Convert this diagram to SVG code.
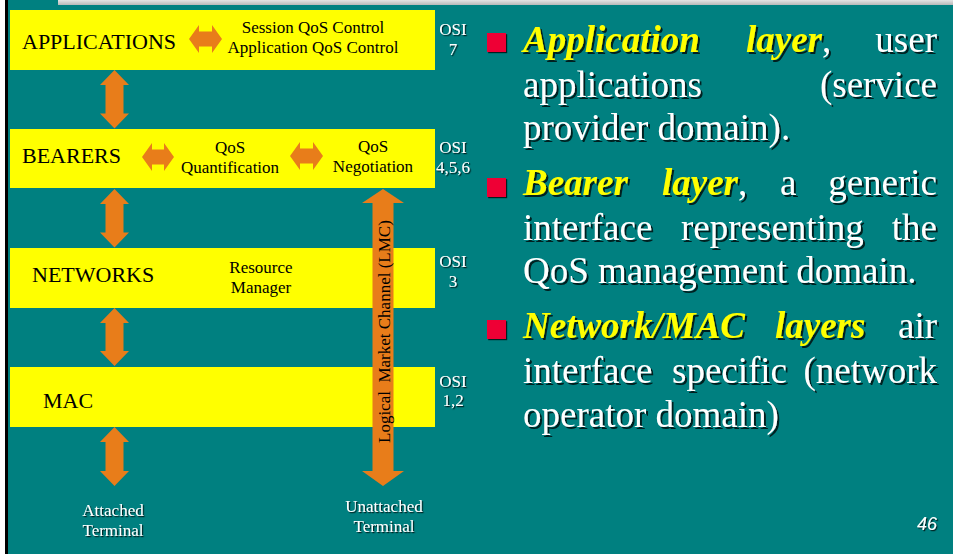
<svg xmlns="http://www.w3.org/2000/svg" width="953" height="554" viewBox="0 0 953 554">
  <defs>
    <linearGradient id="topbar" x1="0" y1="0" x2="0" y2="1">
      <stop offset="0" stop-color="#e4e4e4"/>
      <stop offset="1" stop-color="#b8b8b8"/>
    </linearGradient>
    <filter id="shadowSmall" x="-10%" y="-10%" width="130%" height="140%">
      <feDropShadow dx="1.2" dy="1.2" stdDeviation="0.2" flood-color="#000" flood-opacity="0.75"/>
    </filter>
    <filter id="shadowLarge" x="-10%" y="-10%" width="130%" height="140%">
      <feDropShadow dx="2" dy="2" stdDeviation="0.3" flood-color="#000" flood-opacity="0.75"/>
    </filter>
  </defs>
  <style>
    .band { fill: #ffff00; }
    .arrow { fill: #e87d1a; }
    .lbl { font-family: "Liberation Serif", "Times New Roman", serif; fill: #000; }
    .big { font-size: 22px; }
    .small { font-size: 17px; text-anchor: middle; }
    .osi { font-family: "Liberation Serif", "Times New Roman", serif; font-size: 17px; fill: #fff; text-anchor: middle; filter: url(#shadowSmall); }
    .term { font-family: "Liberation Serif", "Times New Roman", serif; font-size: 17px; fill: #fff; text-anchor: middle; filter: url(#shadowSmall); }
    .body { font-family: "Liberation Serif", "Times New Roman", serif; font-size: 37px; fill: #fff; filter: url(#shadowLarge); }
    .em { font-weight: bold; font-style: italic; fill: #ffff00; }
    .end { text-anchor: end; }
    .bullet { fill: #ee0035; filter: url(#shadowSmall); }
  </style>

  <!-- slide background and frame -->
  <rect x="0" y="0" width="953" height="554" fill="#008080"/>
  <rect x="0" y="0" width="5" height="554" fill="#ffffff"/>
  <rect x="5" y="0" width="3" height="554" fill="#000000"/>
  <rect x="58" y="0" width="895" height="5" fill="url(#topbar)"/>

  <!-- layer bands -->
  <g id="applications">
    <rect class="band" x="10" y="10" width="425" height="60"/>
    <text class="lbl big" x="22" y="49">APPLICATIONS</text>
    <text class="lbl small" x="313" y="33">Session QoS Control</text>
    <text class="lbl small" x="313" y="53">Application QoS Control</text>
  </g>
  <g id="bearers">
    <rect class="band" x="10" y="129" width="425" height="59"/>
    <text class="lbl big" x="22" y="163">BEARERS</text>
    <text class="lbl small" x="230" y="153">QoS</text>
    <text class="lbl small" x="230" y="173">Quantification</text>
    <text class="lbl small" x="373" y="152">QoS</text>
    <text class="lbl small" x="373" y="172">Negotiation</text>
  </g>
  <g id="networks">
    <rect class="band" x="10" y="248" width="425" height="60"/>
    <text class="lbl big" x="32" y="282">NETWORKS</text>
    <text class="lbl small" x="261" y="273">Resource</text>
    <text class="lbl small" x="261" y="293">Manager</text>
  </g>
  <g id="mac">
    <rect class="band" x="10" y="367" width="425" height="60"/>
    <text class="lbl big" x="43" y="408">MAC</text>
  </g>

  <!-- OSI layer numbers -->
  <g id="osi-labels">
    <text class="osi" x="453" y="35">OSI</text>
    <text class="osi" x="453" y="55">7</text>
    <text class="osi" x="453" y="153">OSI</text>
    <text class="osi" x="453" y="173">4,5,6</text>
    <text class="osi" x="453" y="267">OSI</text>
    <text class="osi" x="453" y="287">3</text>
    <text class="osi" x="453" y="387">OSI</text>
    <text class="osi" x="453" y="406">1,2</text>
  </g>

  <!-- terminals -->
  <g id="attached-terminal">
    <text class="term" x="113" y="516">Attached</text>
    <text class="term" x="113" y="536">Terminal</text>
  </g>
  <g id="unattached-terminal">
    <text class="term" x="384" y="512">Unattached</text>
    <text class="term" x="384" y="532">Terminal</text>
  </g>

  <!-- block arrows between layers -->
  <g id="connectors">
    <!-- vertical double arrows, centre x = 114.5 -->
    <path class="arrow" d="M114.5,70 L129,85 L123.5,85 L123.5,113.5 L129,113.5 L114.5,128.5 L100,113.5 L105.5,113.5 L105.5,85 L100,85 Z"/>
    <path class="arrow" d="M114.5,189 L129,204 L123.5,204 L123.5,232.5 L129,232.5 L114.5,247.5 L100,232.5 L105.5,232.5 L105.5,204 L100,204 Z"/>
    <path class="arrow" d="M114.5,308 L129,323 L123.5,323 L123.5,351 L129,351 L114.5,366 L100,351 L105.5,351 L105.5,323 L100,323 Z"/>
    <path class="arrow" d="M114.5,427 L129,442 L123.5,442 L123.5,471 L129,471 L114.5,486 L100,471 L105.5,471 L105.5,442 L100,442 Z"/>
    <!-- horizontal double arrows -->
    <path class="arrow" d="M189,39 L199,25 L199,31.5 L212,31.5 L212,25 L222,39 L212,53 L212,46.5 L199,46.5 L199,53 Z"/>
    <path class="arrow" d="M142,157 L152,143 L152,149.5 L164,149.5 L164,143 L174,157 L164,171 L164,164.5 L152,164.5 L152,171 Z"/>
    <path class="arrow" d="M290,156 L300,142 L300,148.5 L313,148.5 L313,142 L323,156 L313,170 L313,163.5 L300,163.5 L300,170 Z"/>
    <!-- logical market channel -->
    <path class="arrow" d="M383,189 L404,203 L393.5,203 L393.5,471 L404,471 L383,486 L362,471 L372.5,471 L372.5,203 L362,203 Z"/>
    <text class="lbl" font-size="17" transform="translate(389.5,443) rotate(-90)">Logical&#160; Market Channel (LMC)</text>
  </g>

  <!-- bullet list -->
  <g id="bullets">
    <rect class="bullet" x="487" y="33" width="19" height="19"/>
    <rect class="bullet" x="487" y="178" width="19" height="19"/>
    <rect class="bullet" x="487" y="320" width="19" height="19"/>

    <text class="body" y="52"><tspan class="em" x="523">Application</tspan><tspan class="em" x="746">layer</tspan>,</text>
    <text class="body end" x="937" y="52">user</text>
    <text class="body" x="523" y="97">applications</text>
    <text class="body end" x="937" y="97">(service</text>
    <text class="body" x="523" y="140">provider domain).</text>

    <text class="body" y="195"><tspan class="em" x="523">Bearer</tspan><tspan class="em" x="662">layer</tspan>,<tspan x="780">a</tspan></text>
    <text class="body end" x="937" y="195">generic</text>
    <text class="body" y="240"><tspan x="523">interface</tspan><tspan x="681">representing</tspan></text>
    <text class="body end" x="937" y="240">the</text>
    <text class="body" x="523" y="283">QoS management domain.</text>

    <text class="body" y="338"><tspan class="em" x="523">Network/MAC</tspan><tspan class="em" x="775">layers</tspan></text>
    <text class="body end" x="937" y="338">air</text>
    <text class="body" y="383"><tspan x="523">interface</tspan><tspan x="672">specific</tspan></text>
    <text class="body end" x="937" y="383">(network</text>
    <text class="body" x="523" y="427">operator domain)</text>
  </g>

  <text x="937" y="530" text-anchor="end" font-family="'Liberation Sans', Arial, sans-serif" font-style="italic" font-size="18" fill="#fff" filter="url(#shadowSmall)">46</text>
</svg>
